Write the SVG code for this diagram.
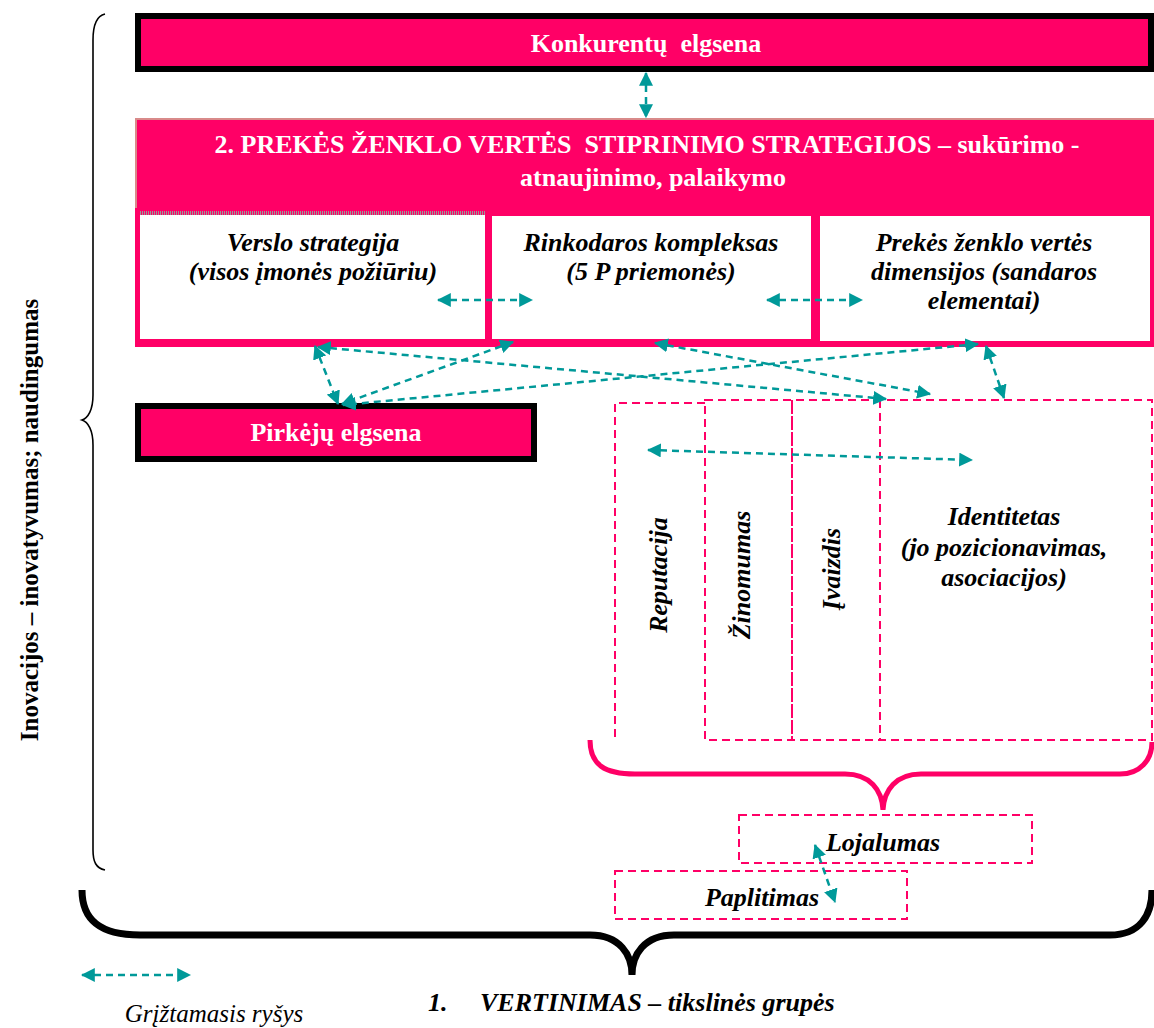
<svg xmlns="http://www.w3.org/2000/svg" width="1154" height="1028" viewBox="0 0 1154 1028">
<style>
.pink{fill:#FF0066}
.wt{fill:#fff;font-family:"Liberation Serif","Times New Roman",serif;font-weight:bold;font-size:26px;text-anchor:middle}
.bi{fill:#000;font-family:"Liberation Serif","Times New Roman",serif;font-weight:bold;font-style:italic;font-size:26px;text-anchor:middle}
.dash{fill:none;stroke:#FF0066;stroke-width:2;stroke-dasharray:8,5}
.conn{fill:none;stroke:#009999;stroke-width:2.5;stroke-dasharray:7,5;marker-start:url(#ah);marker-end:url(#ah)}
</style>
<defs>
<marker id="ah" viewBox="0 0 12 12" refX="11" refY="6" markerWidth="14" markerHeight="14" markerUnits="userSpaceOnUse" orient="auto-start-reverse">
<path d="M0,0 L12,6 L0,12 z" fill="#009999"/>
</marker>
</defs>
<rect width="1154" height="1028" fill="#fff"/>

<g id="brace-left">
<path d="M105,14 C96,16 93,25 93,40 L93,395 C93,410 88,418 82,420 C88,422 93,430 93,445 L93,850 C93,862 96,868 105,870" fill="none" stroke="#000" stroke-width="1.6"/>
<text transform="translate(38,520) rotate(-90)" style="font-family:'Liberation Serif','Times New Roman',serif;font-weight:bold;font-size:25px;text-anchor:middle">Inovacijos – inovatyvumas; naudingumas</text>
</g>

<g id="konkurentu">
<rect x="138" y="16" width="1013" height="53" class="pink" stroke="#000" stroke-width="6"/>
<text x="646" y="52" class="wt" xml:space="preserve">Konkurentų  elgsena</text>
</g>

<g id="strategijos">
<rect x="135" y="118" width="1019" height="229" class="pink"/>
<line x1="135" y1="119" x2="1154" y2="119" stroke="#D98A8A" stroke-width="2"/>
<line x1="136" y1="119" x2="136" y2="208" stroke="#D98A8A" stroke-width="2"/>
<text x="647" y="153" class="wt" xml:space="preserve">2. PREKĖS ŽENKLO VERTĖS  STIPRINIMO STRATEGIJOS – sukūrimo -</text>
<text x="653" y="186" class="wt">atnaujinimo, palaikymo</text>
</g>

<g id="verslo">
<rect x="140" y="215" width="345" height="124" fill="#fff"/>
<line x1="140" y1="213" x2="485" y2="213" stroke="#999" stroke-width="4" stroke-dasharray="1,1"/>
<text x="313" y="251" class="bi">Verslo strategija</text>
<text x="313" y="280" class="bi">(visos įmonės požiūriu)</text>
</g>

<g id="rinkodaros">
<rect x="492" y="216" width="319" height="123" fill="#fff"/>
<text x="651" y="251" class="bi">Rinkodaros kompleksas</text>
<text x="651" y="280" class="bi">(5 P priemonės)</text>
</g>

<g id="dimensijos">
<rect x="820" y="216" width="330" height="125" fill="#fff"/>
<text x="984" y="251" class="bi">Prekės ženklo vertės</text>
<text x="984" y="280" class="bi">dimensijos (sandaros</text>
<text x="984" y="309" class="bi">elementai)</text>
</g>

<g id="pirkeju">
<rect x="138" y="406" width="396" height="53" class="pink" stroke="#000" stroke-width="6"/>
<text x="336" y="441" class="wt">Pirkėjų elgsena</text>
</g>

<g id="reputacija">
<path d="M705,403 H615 V740" class="dash"/>
<text transform="translate(667,575) rotate(-90)" class="bi">Reputacija</text>
</g>
<g id="zinomumas">
<rect x="705" y="400" width="447" height="340" class="dash"/>
<text transform="translate(750,575) rotate(-90)" class="bi">Žinomumas</text>
</g>
<g id="ivaizdis">
<line x1="792" y1="400" x2="792" y2="740" stroke="#FF0066" stroke-width="2" stroke-dasharray="14,2"/>
<text transform="translate(840,569) rotate(-90)" class="bi">Įvaizdis</text>
</g>
<g id="identitetas">
<line x1="880" y1="400" x2="880" y2="740" class="dash"/>
<text x="1004" y="525" class="bi">Identitetas</text>
<text x="1004" y="556" class="bi">(jo pozicionavimas,</text>
<text x="1004" y="586" class="bi">asociacijos)</text>
</g>

<g id="brace-pink">
<path d="M590,740 C590,765 605,774 635,774 L845,774 C870,774 882,790 883,810 C884,790 896,774 921,774 L1120,774 C1140,774 1152,760 1152,742" fill="none" stroke="#FF0066" stroke-width="5"/>
</g>

<g id="lojalumas">
<rect x="739" y="815" width="293" height="48" class="dash"/>
<text x="883" y="851" class="bi">Lojalumas</text>
</g>
<g id="paplitimas">
<rect x="615" y="871" width="292" height="48" class="dash"/>
<text x="762" y="906" class="bi">Paplitimas</text>
</g>

<g id="brace-bottom">
<path d="M82,890 C82,920 100,935 140,935 L590,935 C620,935 632,955 632,975 C632,955 644,935 674,935 L1110,935 C1140,935 1152,915 1152,890" fill="none" stroke="#000" stroke-width="7"/>
</g>

<g id="connectors">
<line x1="646" y1="73" x2="646" y2="117" class="conn"/>
<line x1="438" y1="300" x2="532" y2="300" class="conn"/>
<line x1="767" y1="300" x2="862" y2="300" class="conn"/>
<line x1="315" y1="346" x2="338" y2="404" class="conn"/>
<line x1="513" y1="342" x2="342" y2="404" class="conn"/>
<line x1="318" y1="347" x2="886" y2="399" class="conn"/>
<line x1="655" y1="343" x2="930" y2="394" class="conn"/>
<line x1="978" y1="344" x2="343" y2="405" class="conn"/>
<line x1="986" y1="346" x2="1004" y2="398" class="conn"/>
<line x1="648" y1="450" x2="972" y2="460" class="conn"/>
<line x1="815" y1="845" x2="835" y2="902" class="conn"/>
<line x1="82" y1="975" x2="190" y2="975" class="conn"/>
</g>

<g id="legend">
<text x="214" y="1022" style="font-family:'Liberation Serif','Times New Roman',serif;font-style:italic;font-size:25px;text-anchor:middle">Grįžtamasis ryšys</text>
</g>
<g id="vertinimas">
<text x="428" y="1011" style="font-family:'Liberation Serif','Times New Roman',serif;font-weight:bold;font-style:italic;font-size:26px">1.</text>
<text x="480" y="1011" style="font-family:'Liberation Serif','Times New Roman',serif;font-weight:bold;font-style:italic;font-size:26px">VERTINIMAS – tikslinės grupės</text>
</g>
</svg>
